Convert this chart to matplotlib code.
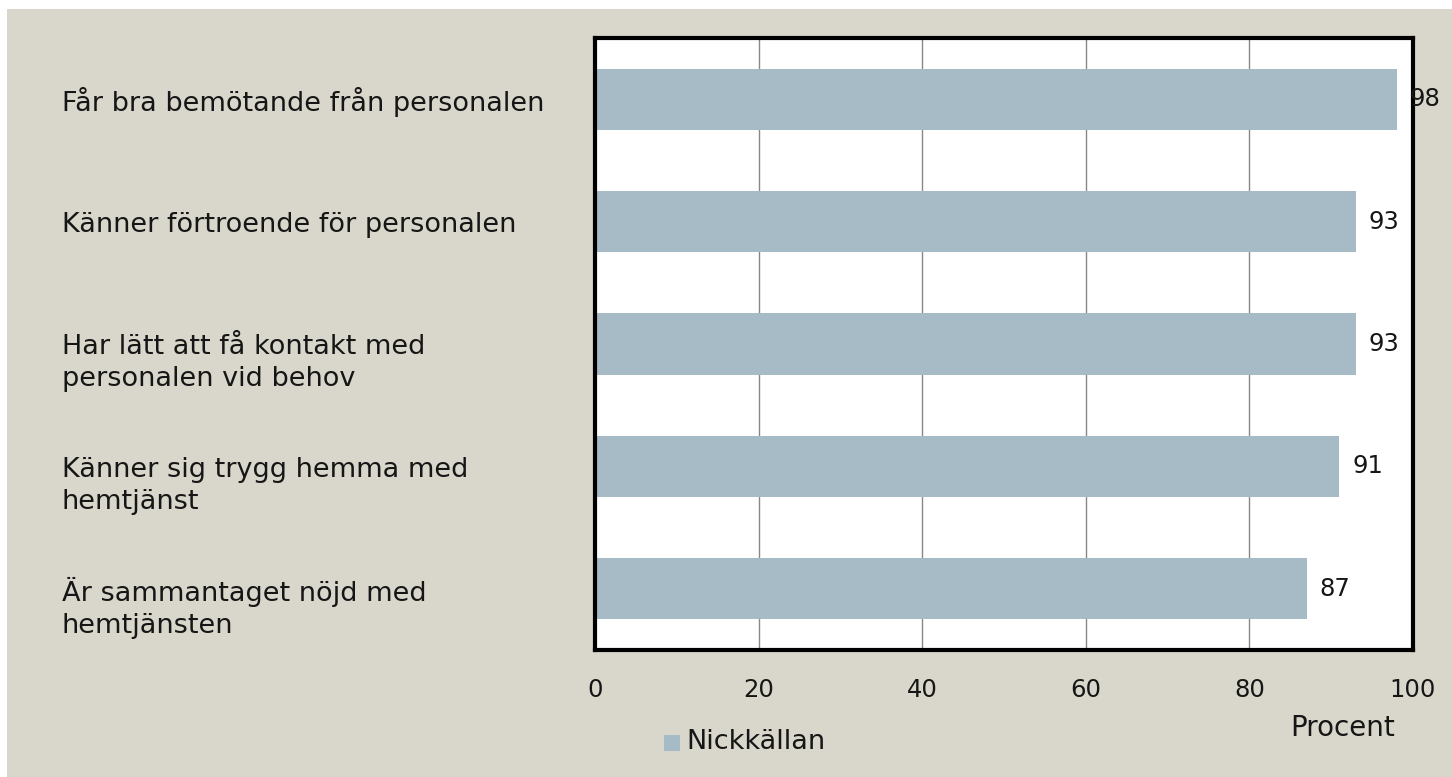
import matplotlib
matplotlib.use("Agg")
import matplotlib.pyplot as plt
from matplotlib.patches import Rectangle
import matplotlib.transforms as mtransforms

categories = [
    "Får bra bemötande från personalen",
    "Känner förtroende för personalen",
    "Har lätt att få kontakt med\npersonalen vid behov",
    "Känner sig trygg hemma med\nhemtjänst",
    "Är sammantaget nöjd med\nhemtjänsten",
]
values = [98, 93, 93, 91, 87]
series_name = "Nickkällan"
xticks = [0, 20, 40, 60, 80, 100]
xlabel = "Procent"

BG = "#D9D7CB"
BAR = "#A6BBC6"
FONT = ["DejaVu Sans"]
FS_TICK = 17.5
FS_LAB = 19.5
TXT = "#161616"

W, H = 1452, 777
fig = plt.figure(figsize=(W / 100, H / 100), dpi=100, facecolor="white")
fig.patches.append(Rectangle((7 / W, 0), 1 - 7 / W, 1 - 9 / H, transform=fig.transFigure,
                             facecolor=BG, edgecolor="none", zorder=-10))

left, right, top, bottom = 595, 1413, 38, 650
ax = fig.add_axes([left / W, 1 - bottom / H, (right - left) / W, (bottom - top) / H])
ax.set_facecolor("white")

y = list(range(len(categories)))
ax.barh(y, values, height=0.5, color=BAR, zorder=2)
ax.set_ylim(len(categories) - 0.5, -0.5)
ax.set_xlim(0, 100)
ax.set_xticks(xticks)
ax.set_xticklabels([str(t) for t in xticks], fontsize=FS_TICK, family=FONT, color=TXT)
ax.tick_params(axis="x", length=0, pad=20)
ax.set_yticks([])
ax.grid(axis="x", color="#888888", linewidth=1, zorder=1)
for s in ax.spines.values():
    s.set_linewidth(3)
    s.set_color("black")

for yi, v in zip(y, values):
    ax.text(v + 1.6, yi, str(v), va="center", ha="left", fontsize=FS_TICK, family=FONT, color=TXT)

base = mtransforms.blended_transform_factory(fig.transFigure, ax.transData)
for yi, c in zip(y, categories):
    n = c.count("\n") + 1
    shift_px = (n - 1) * 16.5 + 3
    tr = base + mtransforms.ScaledTranslation(0, -shift_px / 100, fig.dpi_scale_trans)
    ax.text(62 / W, yi, c, transform=tr, ha="left", va="center",
            fontsize=FS_LAB, family=FONT, color=TXT, linespacing=1.3, clip_on=False)

fig.text(1290 / W, 1 - 728 / H, xlabel, fontsize=FS_LAB + 0.5, family=FONT, ha="left", va="center", color=TXT)
fig.patches.append(Rectangle((664 / W, 1 - 751 / H), 16 / W, 16 / H, transform=fig.transFigure,
                             facecolor=BAR, edgecolor="none"))
fig.text(686 / W, 1 - 742 / H, series_name, fontsize=FS_LAB, family=FONT, ha="left", va="center", color=TXT)

fig.savefig("out.png", dpi=100, facecolor="white")
